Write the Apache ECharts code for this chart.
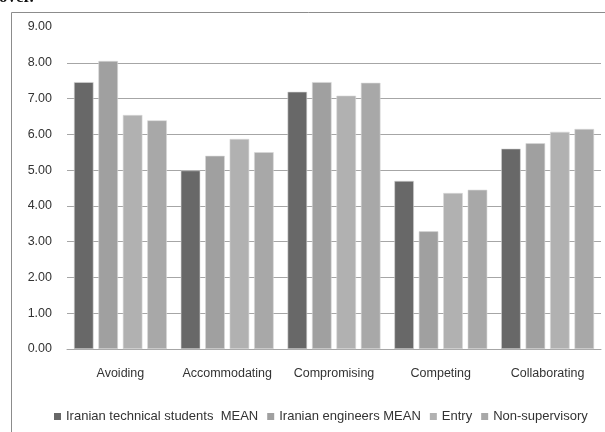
<!DOCTYPE html>
<html>
<head>
<meta charset="utf-8">
<script src="https://cdn.jsdelivr.net/npm/echarts@6/dist/echarts.min.js"></script>
<style>
  html, body { margin: 0; padding: 0; background: #fff; }
  #chart { width: 605px; height: 432px; }
</style>
</head>
<body>
<div id="chart"></div>
<script>
// Conflict-handling styles: mean scores per group
const categories = ['Avoiding', 'Accommodating', 'Compromising', 'Competing', 'Collaborating'];
const seriesNames = ['Iranian technical students  MEAN', 'Iranian engineers MEAN', 'Entry', 'Non-supervisory'];
const studentsMean = [7.46, 4.99, 7.19, 4.70, 5.60];
const engineersMean = [8.05, 5.40, 7.46, 3.29, 5.75];
const entryMean = [6.54, 5.87, 7.08, 4.36, 6.07];
const nonSupervisoryMean = [6.39, 5.50, 7.44, 4.45, 6.15];
const yTicks = [0, 1, 2, 3, 4, 5, 6, 7, 8, 9];

const seriesValues = [studentsMean, engineersMean, entryMean, nonSupervisoryMean];
const barColors = ['#686868', '#a0a0a0', '#b1b1b1', '#a8a8a8'];
const font = 'Liberation Sans, Arial, sans-serif';

// gridlines for every tick except the top one
const gridColors = yTicks.map((t, i) => i === yTicks.length - 1 ? 'rgba(0,0,0,0)' : '#a6a6a6');

const chart = echarts.init(document.getElementById('chart'), null, { renderer: 'canvas' });
chart.setOption({
  animation: false,
  backgroundColor: '#ffffff',
  textStyle: { fontFamily: font },
  graphic: [
    {
      type: 'rect',
      shape: { x: 11.5, y: 12.5, width: 700, height: 500 },
      style: { fill: 'none', stroke: '#8c8c8c', lineWidth: 1 },
      silent: true
    },
    {
      type: 'text',
      left: -1,
      top: -11,
      style: { text: 'over.', font: 'bold 17px "Liberation Serif", serif', fill: '#111' },
      silent: true
    }
  ],
  grid: { left: 67, right: 4, top: 27, bottom: 83, containLabel: false },
  legend: {
    data: seriesNames,
    left: 49,
    top: 405,
    icon: 'rect',
    itemWidth: 7,
    itemHeight: 7,
    itemGap: 9,
    itemStyle: { borderWidth: 0 },
    textStyle: { fontFamily: font, fontSize: 13, color: '#333' }
  },
  xAxis: {
    type: 'category',
    data: categories,
    axisLine: { show: true, lineStyle: { color: '#a6a6a6', width: 1 } },
    axisTick: { show: false },
    axisLabel: { interval: 0, margin: 18, fontFamily: font, fontSize: 12.5, color: '#333' }
  },
  yAxis: {
    type: 'value',
    min: 0,
    max: 9,
    interval: 1,
    axisLine: { show: false },
    axisTick: { show: false },
    axisLabel: {
      margin: 15,
      fontFamily: font,
      fontSize: 12.5,
      color: '#333',
      formatter: v => v.toFixed(2)
    },
    splitLine: { show: true, lineStyle: { color: gridColors, width: 1 } }
  },
  series: seriesNames.map((name, i) => ({
    name: name,
    type: 'bar',
    data: seriesValues[i],
    barGap: '25%',
    barCategoryGap: '13%',
    itemStyle: { color: barColors[i], borderColor: '#d8d8d8', borderWidth: 0.6 }
  }))
});
</script>
</body>
</html>
